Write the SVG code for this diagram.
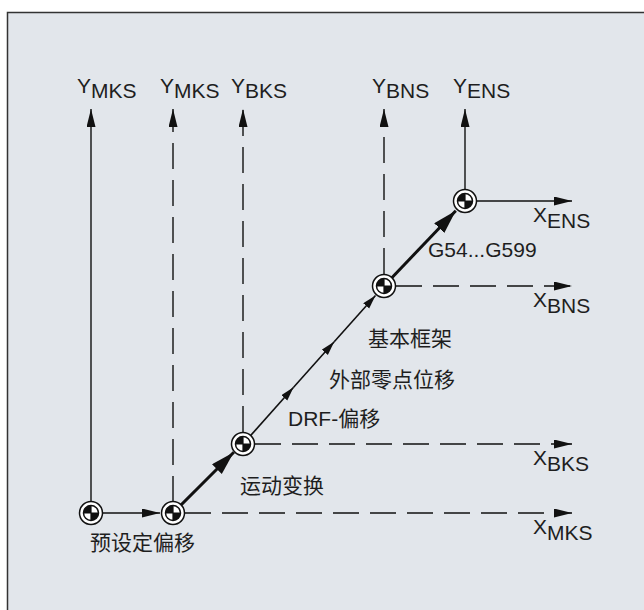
<svg xmlns="http://www.w3.org/2000/svg" width="644" height="610" viewBox="0 0 644 610">
<style>
.t{font-family:"Liberation Sans","Noto Sans CJK SC",sans-serif;font-size:21px;fill:#1e1e1e}
.ax{stroke:#111;stroke-width:1.4;fill:none;marker-end:url(#ah)}
.dash{stroke-dasharray:26 11}
.thick{stroke:#111;stroke-width:3;fill:none;marker-end:url(#big)}
.thin{stroke:#111;stroke-width:1.6;fill:none;marker-end:url(#sm)}
</style>
<defs>
<marker id="ah" markerUnits="userSpaceOnUse" markerWidth="20" markerHeight="10" refX="18" refY="4.5" orient="auto"><path d="M0,0 L18,4.5 L0,9 z" fill="#111"/></marker>
<marker id="big" markerUnits="userSpaceOnUse" markerWidth="26" markerHeight="16" refX="24" refY="7" orient="auto"><path d="M0,0 L24,7 L0,14 z" fill="#111"/></marker>
<marker id="sm" markerUnits="userSpaceOnUse" markerWidth="16" markerHeight="10" refX="14" refY="4" orient="auto"><path d="M0,0 L14,4 L0,8 z" fill="#111"/></marker>
<g id="zp">
<circle r="11.5" fill="#fff" stroke="#111" stroke-width="1.5"/>
<circle r="7.5" fill="#fff" stroke="#111" stroke-width="1.5"/>
<path d="M0,0 L-7.5,0 A7.5,7.5 0 0 1 0,-7.5 z M0,0 L7.5,0 A7.5,7.5 0 0 1 0,7.5 z" fill="#111"/>
<path d="M-7.5,0 H7.5 M0,-7.5 V7.5" stroke="#111" stroke-width="1.2"/>
</g>
</defs>
<rect x="0" y="0" width="644" height="610" fill="#fff"/>
<rect x="7.5" y="12.5" width="700" height="700" fill="#e2e6eb" stroke="#333" stroke-width="1.5"/>

<g id="connectors">
<!-- Y axes -->
<line class="ax" x1="91" y1="502" x2="91" y2="109"/>
<line class="ax dash" x1="173" y1="502" x2="173" y2="109"/>
<line class="ax dash" x1="243" y1="432" x2="243" y2="109"/>
<line class="ax dash" x1="384" y1="274" x2="384" y2="109"/>
<line class="ax" x1="465" y1="189" x2="465" y2="109"/>
<!-- X axes -->
<line class="ax dash" x1="185" y1="513" x2="572" y2="513"/>
<line class="ax dash" x1="255" y1="444" x2="572" y2="444"/>
<line class="ax dash" x1="396" y1="286" x2="572" y2="286"/>
<line class="ax" x1="477" y1="201" x2="572" y2="201"/>
<!-- transformation chain -->
<line class="ax" x1="102" y1="513" x2="160" y2="513"/>
<line class="thick" x1="173" y1="513" x2="233.8" y2="452.2"/>
<line class="thin" x1="243" y1="444" x2="293.6" y2="387.3"/>
<line class="thin" x1="293.6" y1="387.3" x2="334.2" y2="341.8"/>
<line class="thin" x1="334.2" y1="341.8" x2="375.5" y2="295.5"/>
<line class="thick" x1="384" y1="286" x2="455.8" y2="210.7"/>
</g>

<g id="n1"><use href="#zp" x="91" y="513"/></g>
<g id="n2"><use href="#zp" x="173" y="513"/></g>
<g id="n3"><use href="#zp" x="243" y="444"/></g>
<g id="n4"><use href="#zp" x="384" y="286"/></g>
<g id="n5"><use href="#zp" x="465" y="201"/></g>

<g id="labels">
<text class="t" x="77" y="93">Y<tspan dy="5">MKS</tspan></text>
<text class="t" x="160" y="93">Y<tspan dy="5">MKS</tspan></text>
<text class="t" x="231" y="93">Y<tspan dy="5">BKS</tspan></text>
<text class="t" x="372" y="93">Y<tspan dy="5">BNS</tspan></text>
<text class="t" x="453" y="93">Y<tspan dy="5">ENS</tspan></text>
<text class="t" x="533" y="222">X<tspan dy="5.5">ENS</tspan></text>
<text class="t" x="533" y="307">X<tspan dy="5.5">BNS</tspan></text>
<text class="t" x="533" y="465">X<tspan dy="5.5">BKS</tspan></text>
<text class="t" x="533" y="534">X<tspan dy="5.5">MKS</tspan></text>
<text class="t" x="428" y="257">G54...G599</text>
<text class="t" x="368" y="346">基本框架</text>
<text class="t" x="329" y="387">外部零点位移</text>
<text class="t" x="288" y="426">DRF-偏移</text>
<text class="t" x="240" y="493">运动变换</text>
<text class="t" x="90" y="550">预设定偏移</text>
</g>
</svg>
